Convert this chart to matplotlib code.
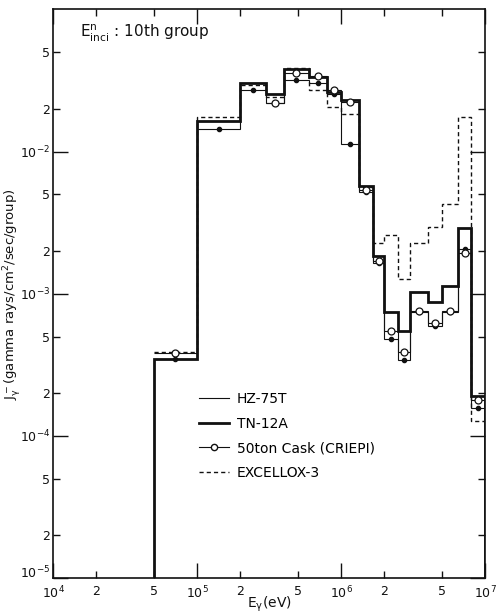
import numpy as np
import matplotlib
matplotlib.use("Agg")
import matplotlib.pyplot as plt
from matplotlib.lines import Line2D
from matplotlib.ticker import FixedLocator, FixedFormatter, NullLocator

# Gamma-ray energy group boundaries (eV), 17 groups from 0.05 MeV to 10 MeV
edges = [5e4, 1e5, 2e5, 3e5, 4e5, 6e5, 8e5, 1e6, 1.33e6, 1.66e6,
         2e6, 2.5e6, 3e6, 4e6, 5e6, 6.5e6, 8e6, 1e7]

# Group-wise gamma current J (gamma rays/cm^2/sec/group)
hz75t = [3.5e-4, 1.45e-2, 2.7e-2, 2.2e-2, 3.18e-2, 3.06e-2, 2.56e-2, 1.13e-2,
         5.16e-3, 1.64e-3, 4.8e-4, 3.4e-4, 7.4e-4, 5.9e-4, 7.4e-4, 2.05e-3, 1.56e-4]
tn12a = [3.5e-4, 1.65e-2, 3.03e-2, 2.56e-2, 3.8e-2, 3.33e-2, 2.61e-2, 2.32e-2,
         5.7e-3, 1.83e-3, 7.4e-4, 5.5e-4, 1.03e-3, 8.8e-4, 1.13e-3, 2.9e-3, 1.92e-4]
criepi = [3.85e-4, np.nan, np.nan, 2.18e-2, 3.6e-2, 3.43e-2, 2.72e-2, 2.22e-2,
          5.33e-3, 1.69e-3, 5.5e-4, 3.9e-4, 7.6e-4, 6.2e-4, 7.6e-4, 1.92e-3, 1.78e-4]
excellox = [3.9e-4, 1.75e-2, 2.92e-2, 2.41e-2, 3.87e-2, 2.73e-2, 2.05e-2, 1.84e-2,
            5.6e-3, 2.26e-3, 2.6e-3, 1.26e-3, 2.26e-3, 2.93e-3, 4.3e-3, 1.74e-2, 1.28e-4]

labels = ["HZ-75T", "TN-12A", "50ton Cask (CRIEPI)", "EXCELLOX-3"]

# Axis ticks
x_ticks = [1e4, 2e4, 5e4, 1e5, 2e5, 5e5, 1e6, 2e6, 5e6, 1e7]
x_ticklabels = [r"$10^4$", "2", "5", r"$10^5$", "2", "5", r"$10^6$", "2", "5", r"$10^7$"]
y_ticks = [1e-5, 2e-5, 5e-5, 1e-4, 2e-4, 5e-4, 1e-3, 2e-3, 5e-3, 1e-2, 2e-2, 5e-2]
y_ticklabels = [r"$10^{-5}$", "2", "5", r"$10^{-4}$", "2", "5", r"$10^{-3}$", "2", "5",
                r"$10^{-2}$", "2", "5"]

plt.rcParams["font.family"] = ["DejaVu Sans"]
plt.rcParams["mathtext.default"] = "regular"

fig = plt.figure(figsize=(4.96, 6.14), dpi=100)
ax = fig.add_axes([0.107, 0.0586, 0.871, 0.926])

e = np.array(edges)
mid = np.sqrt(e[:-1] * e[1:])
ink = "#111111"

ax.stairs(excellox, edges, color=ink, lw=1.0, linestyle=(0, (3.0, 2.2)), baseline=None)
ax.stairs(hz75t, edges, color=ink, lw=0.8, baseline=None)
ax.stairs(criepi, edges, color=ink, lw=0.8, baseline=None)
ax.stairs(tn12a, edges, color=ink, lw=2.0, baseline=1e-7)

ax.plot(mid, hz75t, linestyle="none", marker="o", ms=3.0, color=ink)
ax.plot(mid, criepi, linestyle="none", marker="o", ms=5.0, mfc="white", mec=ink, mew=0.9)

ax.set_xscale("log")
ax.set_yscale("log")
ax.set_xlim(1e4, 1e7)
ax.set_ylim(1e-5, 1e-1)

ax.xaxis.set_major_locator(FixedLocator(x_ticks))
ax.xaxis.set_major_formatter(FixedFormatter(x_ticklabels))
ax.xaxis.set_minor_locator(NullLocator())
ax.yaxis.set_major_locator(FixedLocator(y_ticks))
ax.yaxis.set_major_formatter(FixedFormatter(y_ticklabels))
ax.yaxis.set_minor_locator(NullLocator())

ax.tick_params(which="both", direction="in", top=True, right=True,
               labelsize=9, width=1.0, color=ink, labelcolor=ink, pad=2)
ax.tick_params(axis="x", pad=5)
# decade ticks long, intermediate ticks short
for axis, vals in ((ax.xaxis, x_ticks), (ax.yaxis, y_ticks)):
    for t, v in zip(axis.get_major_ticks(), vals):
        dec = abs(np.log10(v) - round(np.log10(v))) < 1e-6
        L = 11 if dec else 5
        t.tick1line.set_markersize(L)
        t.tick2line.set_markersize(L)
ylabels_drawn = ax.get_yticklabels()
for lbl in ylabels_drawn:
    lbl.set_verticalalignment("center_baseline")
# lowest decade label sits on its tick, clear of the x labels
ylabels_drawn[0].set_verticalalignment("baseline")

for s in ax.spines.values():
    s.set_linewidth(1.2)
    s.set_color(ink)

ax.set_xlabel(r"$E_\gamma$(eV)", fontsize=10, color=ink)
ax.xaxis.set_label_coords(0.5, -0.03)
ax.set_ylabel(r"$J_\gamma^-$(gamma rays/cm$^2$/sec/group)", fontsize=9.5, color=ink)
ax.yaxis.set_label_coords(-0.07, 0.5)

ax.text(0.062, 0.958, r"$E^{n}_{inci}$ : 10th group", transform=ax.transAxes,
        fontsize=11, va="center", ha="left", color=ink)

handles = [
    Line2D([], [], color=ink, lw=0.8),
    Line2D([], [], color=ink, lw=2.0),
    Line2D([], [], color=ink, lw=0.8, marker="o", ms=4.5, mfc="white", mec=ink),
    Line2D([], [], color=ink, lw=1.0, linestyle=(0, (3.0, 2.2))),
]
ax.legend(handles, labels, loc="center left", bbox_to_anchor=(0.31, 0.25),
          frameon=False, fontsize=10, handlelength=2.1, handletextpad=0.6,
          labelspacing=0.75)

fig.savefig("out.png", dpi=100)
